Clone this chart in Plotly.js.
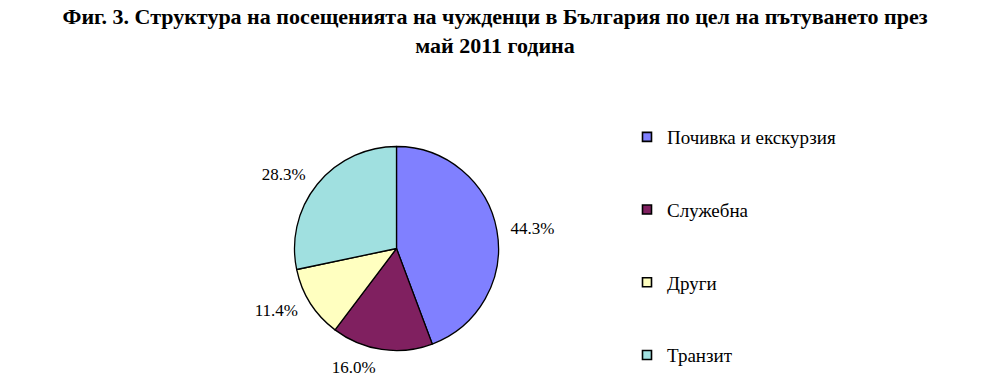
<!DOCTYPE html>
<html><head><meta charset="utf-8">
<script src="https://cdn.plot.ly/plotly-3.0.1.min.js"></script>
<style>html,body{margin:0;padding:0;background:#fff}#c{width:990px;height:376px}</style>
</head><body><div id="c"></div>
<script>
const labels = ["Почивка и екскурзия", "Служебна", "Други", "Транзит"];
const values = [44.3, 16.0, 11.4, 28.3];
const colors = ["#8080FF", "#802060", "#FFFFC0", "#A0E0E0"];
const titleText = "Фиг. 3. Структура на посещенията на чужденци в България по цел на пътуването през<br>май 2011 година";

const W = 990, H = 376;
const cx = 396.5, cy = 248.5, rd = 102, rdLab = 111;
const dom = (r) => ({x: [(cx - r) / W, (cx + r) / W], y: [(H - cy - r) / H, (H - cy + r) / H]});

const traces = [{
  type: "pie",
  labels: labels,
  values: values,
  sort: false,
  direction: "clockwise",
  rotation: 0,
  marker: {colors: colors, line: {color: "#000", width: 1.3}},
  textinfo: "none",
  hoverinfo: "none",
  showlegend: false,
  automargin: false,
  domain: dom(rd)
}, {
  type: "pie",
  labels: labels,
  values: values,
  sort: false,
  direction: "clockwise",
  rotation: 0,
  marker: {colors: ["rgba(0,0,0,0)", "rgba(0,0,0,0)", "rgba(0,0,0,0)", "rgba(0,0,0,0)"], line: {width: 0}},
  textposition: "outside",
  texttemplate: "%{percent:.1%}",
  textfont: {family: "Liberation Serif", size: 17, color: "#000"},
  hoverinfo: "none",
  showlegend: false,
  automargin: false,
  domain: dom(rdLab)
}];
labels.forEach((l, i) => {
  traces.push({
    type: "scatter", mode: "markers", x: [null], y: [null],
    name: l, legendgroup: "g" + i, showlegend: true,
    marker: {symbol: "square", size: 9, color: colors[i], line: {color: "#000", width: 1.6}}
  });
});

const layout = {
  width: W, height: H,
  margin: {l: 0, r: 0, t: 0, b: 0},
  paper_bgcolor: "#fff", plot_bgcolor: "#fff",
  title: {text: titleText, x: 0.5, xanchor: "center", y: 1 - 24 / H, yanchor: "top",
          font: {family: "Liberation Serif", size: 22, color: "#000", weight: "bold"}},
  xaxis: {visible: false}, yaxis: {visible: false},
  showlegend: true,
  legend: {x: 627 / W, xanchor: "left", y: 1 - 118 / H, yanchor: "top",
           tracegroupgap: 45, traceorder: "grouped",
           font: {family: "Liberation Serif", size: 19, color: "#000"},
           bgcolor: "rgba(0,0,0,0)"}
};
Plotly.newPlot("c", traces, layout, {displayModeBar: false, staticPlot: true});
</script></body></html>
